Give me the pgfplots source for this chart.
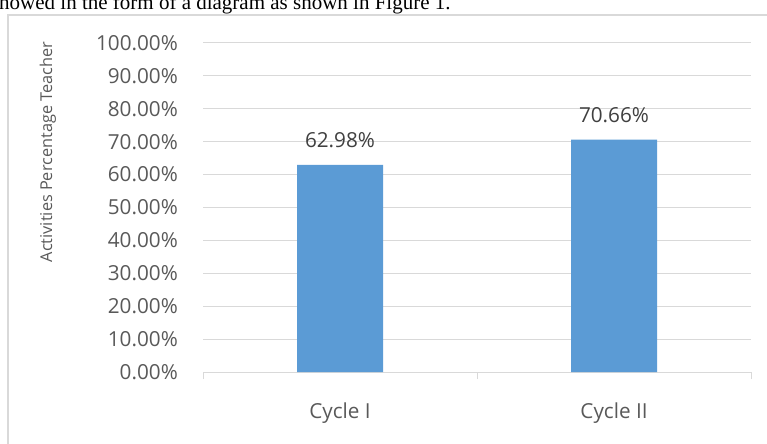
\documentclass[border=0pt]{standalone}
\usepackage{pgfplots}
\pgfplotsset{compat=1.18}
\usepackage{fontspec}
\setmainfont{Open Sans}
\newfontfamily\seriffont{Liberation Serif}
\definecolor{gridgray}{HTML}{D9D9D9}
\definecolor{ticktext}{HTML}{595959}
\definecolor{labeltext}{HTML}{404040}
\definecolor{barblue}{HTML}{5B9BD5}
\begin{document}
\begin{tikzpicture}
\path[use as bounding box] (0,0) rectangle (767bp,444bp);
\clip (0,0) rectangle (767bp,444bp);
\node[anchor=base west, inner sep=0pt, font=\seriffont\fontsize{21bp}{24bp}\selectfont] at (-1bp,434bp) {howed in the form of a diagram as shown in Figure 1.};
\draw[gridgray, line width=2bp] (800bp,429bp) -- (8bp,429bp) -- (8bp,-20bp);
\begin{axis}[
  at={(203bp,72bp)}, anchor=south west,
  scale only axis,
  width=548bp, height=329bp,
  xmin=-0.5, xmax=1.5,
  ymin=0, ymax=100,
  ytick={0,10,...,100},
  xtick={0,1},
  xticklabels={Cycle I, Cycle II},
  minor xtick={-0.5,0.5,1.5},
  tick align=outside,
  major tick length=0pt,
  minor tick length=7bp,
  axis x line*=bottom,
  axis y line*=left,
  y axis line style={draw=none},
  x axis line style={gridgray, line width=1bp},
  minor x tick style={gridgray, line width=1bp},
  major tick style={draw=none},
  ymajorgrids,
  grid style={gridgray, line width=1bp},
  /pgf/number format/assume math mode=true,
  yticklabel={\pgfmathprintnumber[fixed,fixed zerofill,precision=2]{\tick}\%},
  yticklabel style={anchor=east, inner sep=0pt, xshift=-25bp, text=ticktext, font=\fontsize{20.7bp}{24bp}\selectfont},
  xticklabel style={anchor=base, inner sep=0pt, yshift=-46bp, text=ticktext, font=\fontsize{20.7bp}{24bp}\selectfont},
  ybar, bar width=86bp,
  nodes near coords={\pgfmathprintnumber[assume math mode=true,fixed,fixed zerofill,precision=2]{\pgfplotspointmeta}\%},
  nodes near coords style={anchor=base, inner sep=0pt, yshift=17bp, text=labeltext, font=\fontsize{20.7bp}{24bp}\selectfont},
  clip=false,
]
\addplot[fill=barblue, draw=none] coordinates {(0,62.98) (1,70.66)};
\end{axis}
\node[rotate=90, inner sep=0pt, text=ticktext, font=\fontsize{16.3bp}{20bp}\selectfont] at (48bp,292bp) {Activities Percentage Teacher};
\end{tikzpicture}
\end{document}
